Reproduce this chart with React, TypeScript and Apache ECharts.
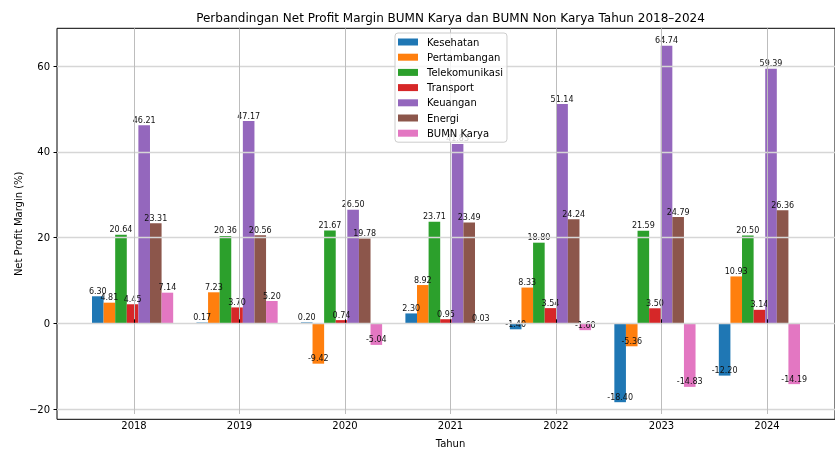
import React, { useEffect, useRef } from 'react';
import * as echarts from 'echarts';

const years = ['2018', '2019', '2020', '2021', '2022', '2023', '2024'];
const seriesNames = ['Kesehatan', 'Pertambangan', 'Telekomunikasi', 'Transport', 'Keuangan', 'Energi', 'BUMN Karya'];
const kesehatan = [6.3, 0.17, 0.2, 2.3, -1.4, -18.4, -12.2];
const pertambangan = [4.81, 7.23, -9.42, 8.92, 8.33, -5.36, 10.93];
const telekomunikasi = [20.64, 20.36, 21.67, 23.71, 18.8, 21.59, 20.5];
const transport = [4.45, 3.7, 0.74, 0.95, 3.54, 3.5, 3.14];
const keuangan = [46.21, 47.17, 26.5, 41.83, 51.14, 64.74, 59.39];
const energi = [23.31, 20.56, 19.78, 23.49, 24.24, 24.79, 26.36];
const bumnKarya = [7.14, 5.2, -5.04, 0.03, -1.6, -14.83, -14.19];
const colors = ['#1f77b4', '#ff7f0e', '#2ca02c', '#d62728', '#9467bd', '#8c564b', '#e377c2'];
const yTicks = [-20, 60];

const allValues = [kesehatan, pertambangan, telekomunikasi, transport, keuangan, energi, bumnKarya];

const FONT = 'DejaVu Sans';

export default function App() {
  const ref = useRef<HTMLDivElement>(null);
  useEffect(() => {
    const chart = echarts.init(ref.current!, null, { renderer: 'svg' });
    const series = seriesNames.map((name, si) => ({
      name,
      type: 'bar',
      xAxisIndex: 0,
      yAxisIndex: 0,
      barWidth: 11.6,
      barGap: '0%',
      z: 2,
      itemStyle: { color: colors[si] },
      data: allValues[si].map((v, i) => ({
        value: [i, v],
        label: {
          show: true,
          position: v < 0 ? 'insideBottom' : 'top',
          distance: 1,
          formatter: () => v.toFixed(2),
          fontSize: 8,
          fontFamily: FONT,
          color: '#111',
        },
      })),
    }));
    const option: any = {
      animation: false,
      textStyle: { fontFamily: FONT },
      grid: [
        { left: 57, top: 28.3, width: 786.5, height: 391, show: true, borderColor: '#000', borderWidth: 1, backgroundColor: 'transparent' },
        { left: 134, top: 28.3, width: 633, height: 391 },
        { left: 57, top: 66, width: 786.5, height: 343.1 },
      ],
      xAxis: [
        { type: 'value', gridIndex: 0, min: -0.7235, max: 6.7235, show: false },
        {
          type: 'value', gridIndex: 1, min: 0, max: years.length - 1, interval: 1, z: 3,
          axisLine: { show: false },
          axisTick: { show: true, length: 3.5, lineStyle: { color: '#000' } },
          axisLabel: { fontSize: 10, color: '#000', fontFamily: FONT, margin: 6, formatter: (v: number) => years[v] ?? '' },
          splitLine: { show: true, lineStyle: { color: '#bdbdbd', width: 1 } },
          name: 'Tahun', nameLocation: 'middle', nameGap: 24,
          nameTextStyle: { fontSize: 10, color: '#000', fontFamily: FONT },
        },
        { type: 'value', gridIndex: 2, min: 0, max: 1, show: false },
      ],
      yAxis: [
        {
          type: 'value', gridIndex: 0, min: -22.39, max: 68.8,
          axisLine: { show: false }, axisTick: { show: false }, axisLabel: { show: false }, splitLine: { show: false },
          name: 'Net Profit Margin (%)', nameLocation: 'middle', nameGap: 34,
          nameTextStyle: { fontSize: 10, color: '#000', fontFamily: FONT },
        },
        { type: 'value', gridIndex: 1, min: -22.39, max: 68.8, show: false },
        {
          type: 'value', gridIndex: 2, min: yTicks[0], max: yTicks[1], interval: 20, z: 3,
          axisLine: { show: false },
          axisTick: { show: true, length: 3.5, lineStyle: { color: '#000' } },
          axisLabel: {
            fontSize: 10, color: '#000', fontFamily: FONT, margin: 7,
            formatter: (v: number) => (v < 0 ? '\u2212' + Math.abs(v) : String(v)),
          },
          splitLine: { show: true, lineStyle: { color: '#d6d6d6', width: 1.4 } },
        },
      ],
      legend: {
        data: seriesNames,
        orient: 'vertical',
        left: 395,
        top: 33,
        icon: 'rect',
        itemWidth: 20,
        itemHeight: 7,
        itemGap: 3.2,
        selectedMode: false,
        padding: [3, 4, 3, 3],
        backgroundColor: 'rgba(255,255,255,0.8)',
        borderColor: '#cccccc',
        borderWidth: 1,
        borderRadius: 3,
        z: 10,
        textStyle: { fontSize: 10, color: '#000', fontFamily: FONT, lineHeight: 12, padding: [0, 0, 0, 4] },
      },
      graphic: [
        {
          type: 'text', x: 450.5, y: 18, z: 10,
          style: {
            text: 'Perbandingan Net Profit Margin BUMN Karya dan BUMN Non Karya Tahun 2018\u20132024',
            fontSize: 12, fontFamily: FONT, fill: '#000', textAlign: 'center', textVerticalAlign: 'middle',
          },
        },
      ],
      series,
    };
    chart.setOption(option);
    return () => chart.dispose();
  }, []);
  return <div ref={ref} style={{ position: 'fixed', left: 0, top: 0, width: 835, height: 453 }} />;
}
